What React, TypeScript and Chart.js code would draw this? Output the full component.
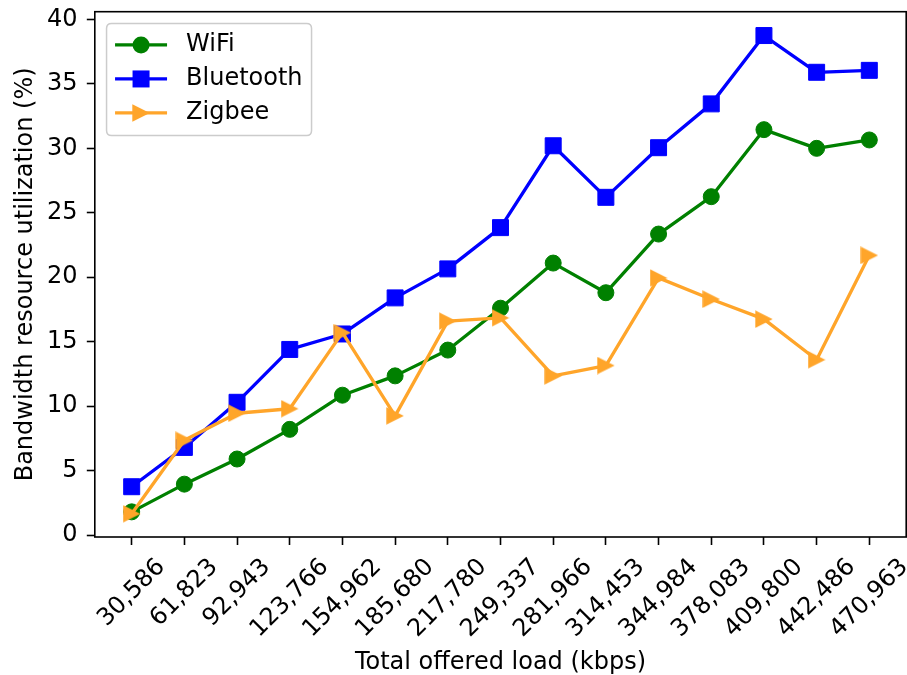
import { useEffect, useRef } from 'react';
import { Chart, registerables } from 'chart.js';

Chart.register(...registerables);

// ---- data ----
const loads = ['30,586', '61,823', '92,943', '123,766', '154,962', '185,680', '217,780', '249,337', '281,966', '314,453', '344,984', '378,083', '409,800', '442,486', '470,963'];
const wifi = [1.8, 3.95, 5.9, 8.2, 10.85, 12.35, 14.35, 17.6, 21.1, 18.8, 23.35, 26.25, 31.45, 30.0, 30.65];
const bluetooth = [3.75, 6.8, 10.3, 14.4, 15.6, 18.4, 20.65, 23.85, 30.2, 26.2, 30.05, 33.45, 38.75, 35.9, 36.05];
const zigbee = [1.65, 7.35, 9.45, 9.8, 15.7, 9.25, 16.6, 16.85, 12.35, 13.15, 19.95, 18.3, 16.75, 13.6, 21.7];
const yTickValues = [0, 5, 10, 15, 20, 25, 30, 35, 40];
const seriesNames = ['WiFi', 'Bluetooth', 'Zigbee'];
const seriesColors = ['#008000', '#0000ff', '#ffa52a'];
const xTitle = 'Total offered load (kbps)';
const yTitle = 'Bandwidth resource utilization (%)';

const FONT = "'DejaVu Sans', 'Liberation Sans', sans-serif";
const FS = 24;

function makeTriangle(color: string, size: number) {
  const c = document.createElement('canvas');
  c.width = size;
  c.height = size;
  const ctx = c.getContext('2d')!;
  ctx.fillStyle = color;
  ctx.beginPath();
  ctx.moveTo(0.3, 0.3);
  ctx.lineTo(size - 0.3, size / 2);
  ctx.lineTo(0.3, size - 0.3);
  ctx.closePath();
  ctx.fill();
  return c;
}

export default function App() {
  const ref = useRef<HTMLCanvasElement>(null);

  useEffect(() => {
    Chart.defaults.font.family = FONT;
    const tri = makeTriangle(seriesColors[2], 18);
    const toXY = (arr: number[]) => arr.map((v, i) => ({ x: i, y: v }));

    const overlay = {
      id: 'overlay',
      afterDatasetsDraw(chart: any) {
        const { ctx, chartArea: a, scales } = chart;
        ctx.save();
        // frame (spines)
        ctx.strokeStyle = '#000';
        ctx.lineWidth = 1.6;
        ctx.strokeRect(a.left, a.top, a.right - a.left, a.bottom - a.top);

        ctx.font = `${FS}px ${FONT}`;
        ctx.fillStyle = '#000';

        // y tick labels
        const ys = scales.y;
        ctx.textAlign = 'right';
        ctx.textBaseline = 'middle';
        yTickValues.forEach((v) => {
          ctx.fillText(String(v), a.left - 17.2, ys.getPixelForValue(v));
        });

        // rotated x tick labels (centered under ticks like matplotlib)
        const xs = scales.x;
        ctx.textAlign = 'center';
        ctx.textBaseline = 'middle';
        const top = a.bottom + 8.2 + 8.2;
        const h = FS * 1.16;
        loads.forEach((lab, i) => {
          const x = xs.getPixelForValue(i);
          const w = ctx.measureText(lab).width;
          const H = (w + h) * Math.SQRT1_2;
          ctx.save();
          ctx.translate(x, top + H / 2);
          ctx.rotate(-Math.PI / 4);
          ctx.fillText(lab, 0, 0);
          ctx.restore();
        });

        // legend
        const lx = a.left + 11.75, ly = a.top + 11.75, lw = 205, lh = 112, r = 5;
        ctx.beginPath();
        ctx.moveTo(lx + r, ly);
        ctx.lineTo(lx + lw - r, ly);
        ctx.quadraticCurveTo(lx + lw, ly, lx + lw, ly + r);
        ctx.lineTo(lx + lw, ly + lh - r);
        ctx.quadraticCurveTo(lx + lw, ly + lh, lx + lw - r, ly + lh);
        ctx.lineTo(lx + r, ly + lh);
        ctx.quadraticCurveTo(lx, ly + lh, lx, ly + lh - r);
        ctx.lineTo(lx, ly + r);
        ctx.quadraticCurveTo(lx, ly, lx + r, ly);
        ctx.closePath();
        ctx.fillStyle = 'rgba(255,255,255,0.8)';
        ctx.fill();
        ctx.strokeStyle = '#cccccc';
        ctx.lineWidth = 1.5;
        ctx.stroke();

        const rows = [ly + 21.5, ly + 55.5, ly + 89.5];
        const hx0 = lx + 8.5, hx1 = lx + 60.5, mx = (hx0 + hx1) / 2;
        seriesNames.forEach((name, i) => {
          const y = rows[i];
          const col = seriesColors[i];
          ctx.strokeStyle = col;
          ctx.lineWidth = 3.3;
          ctx.beginPath();
          ctx.moveTo(hx0, y);
          ctx.lineTo(hx1, y);
          ctx.stroke();
          ctx.fillStyle = col;
          if (i === 0) {
            ctx.beginPath();
            ctx.arc(mx, y, 8.5, 0, Math.PI * 2);
            ctx.fill();
          } else if (i === 1) {
            ctx.fillRect(mx - 8.5, y - 8.5, 17, 17);
          } else {
            ctx.drawImage(tri, mx - tri.width / 2, y - tri.height / 2);
          }
          ctx.fillStyle = '#000';
          ctx.textAlign = 'left';
          ctx.textBaseline = 'middle';
          ctx.font = `${FS}px ${FONT}`;
          ctx.fillText(name, lx + 79.5, y);
        });
        ctx.restore();
      },
    };

    const common = {
      borderWidth: 3.3,
      borderJoinStyle: 'round' as const,
      borderCapStyle: 'butt' as const,
      tension: 0,
      fill: false,
      pointBorderWidth: 1,
    };

    const chart = new Chart(ref.current!, {
      type: 'line',
      data: {
        datasets: [
          {
            ...common,
            label: seriesNames[0],
            data: toXY(wifi),
            borderColor: seriesColors[0],
            backgroundColor: seriesColors[0],
            pointBackgroundColor: seriesColors[0],
            pointBorderColor: seriesColors[0],
            pointStyle: 'circle',
            pointRadius: 8,
            order: 2,
          },
          {
            ...common,
            label: seriesNames[1],
            data: toXY(bluetooth),
            borderColor: seriesColors[1],
            backgroundColor: seriesColors[1],
            pointBackgroundColor: seriesColors[1],
            pointBorderColor: seriesColors[1],
            pointStyle: 'rect',
            pointRadius: 11.3,
            order: 1,
          },
          {
            ...common,
            label: seriesNames[2],
            data: toXY(zigbee),
            borderColor: seriesColors[2],
            backgroundColor: seriesColors[2],
            pointBackgroundColor: seriesColors[2],
            pointBorderColor: seriesColors[2],
            pointStyle: tri as any,
            pointRadius: 9,
            order: 0,
          },
        ],
      },
      options: {
        responsive: false,
        maintainAspectRatio: false,
        devicePixelRatio: 1,
        animation: false,
        events: [],
        layout: { autoPadding: false, padding: { left: 0, right: 0.8, top: 11.7, bottom: 0 } },
        plugins: {
          legend: { display: false },
          tooltip: { enabled: false },
        },
        scales: {
          x: {
            type: 'linear',
            min: -0.7,
            max: 14.7,
            afterBuildTicks: (s: any) => {
              s.ticks = loads.map((_, i) => ({ value: i }));
            },
            ticks: { display: false, callback: (v: any) => loads[v] ?? '' },
            grid: {
              display: true,
              drawOnChartArea: false,
              drawTicks: true,
              tickLength: 8,
              tickWidth: 1.6,
              tickColor: '#000',
            },
            border: { display: false },
            title: {
              display: true,
              text: xTitle,
              color: '#000',
              font: { size: FS, family: FONT, lineHeight: 1 },
              padding: { top: 0, bottom: 0.5 },
            },
            afterFit: (s: any) => {
              s.height = 138;
            },
          },
          y: {
            type: 'linear',
            min: -0.15,
            max: 40.6,
            afterBuildTicks: (s: any) => {
              s.ticks = yTickValues.map((v) => ({ value: v }));
            },
            ticks: { display: false },
            grid: {
              display: true,
              drawOnChartArea: false,
              drawTicks: true,
              tickLength: 8,
              tickWidth: 1.6,
              tickColor: '#000',
            },
            border: { display: false },
            title: {
              display: true,
              text: yTitle,
              color: '#000',
              font: { size: FS, family: FONT, lineHeight: 1 },
              padding: { top: 13.4, bottom: 0 },
            },
            afterFit: (s: any) => {
              s.width = 94.8;
            },
          },
        },
      },
      plugins: [overlay],
    });
    return () => chart.destroy();
  }, []);

  return (
    <div style={{ position: 'absolute', left: 0, top: 0, width: 907, height: 675, background: '#fff' }}>
      <canvas ref={ref} width={907} height={675} style={{ display: 'block', width: 907, height: 675 }} />
    </div>
  );
}
